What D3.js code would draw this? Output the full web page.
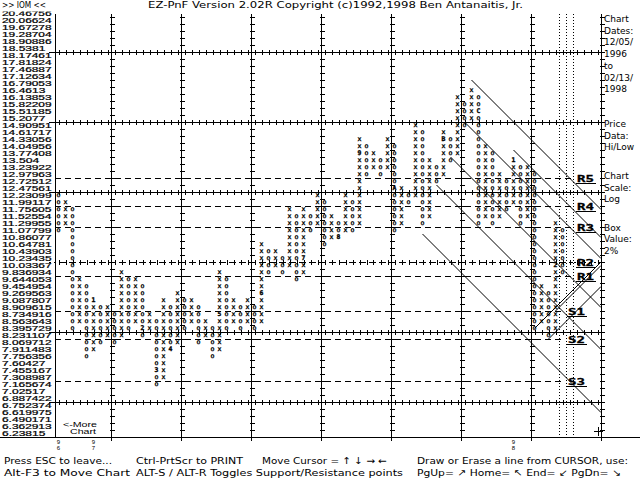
<!DOCTYPE html>
<html><head><meta charset="utf-8">
<script src="https://cdn.jsdelivr.net/npm/d3@7"></script>
<style>body{margin:0;background:#fff}svg{display:block}</style>
</head><body>
<svg id="c" width="640" height="480"></svg>
<script>
// ---------- DATA ----------
const priceLabels = ["6.23815","6.362913","6.490171","6.619975","6.752374","6.887422","7.02517","7.165674","7.308987","7.455167",
"7.60427","7.756356","7.911483","8.069712","8.231107","8.395729","8.563643","8.734916","8.909615","9.087807",
"9.269563","9.454954","9.644053","9.836934","10.03367","10.23435","10.43903","10.64781","10.86077","11.07799",
"11.29955","11.52554","11.75605","11.99117","12.23099","12.47561","12.72512","12.97963","13.23922","13.504",
"13.77408","14.04956","14.33056","14.61717","14.90951","15.2077","15.51185","15.82209","16.13853","16.4613",
"16.79053","17.12634","17.46887","17.81824","18.17461","18.5381","18.90886","19.28704","19.67278","20.06624","20.46756"];
// point & figure columns (box row indices, 0 = 6.23815, 2% boxes)
const colType = ["O","X","O","X","O","X","O","X","O","X","O","X","O","X","O","X","O","X","O","X",
"O","X","O","X","O","X","O","X","O","X","O","X","O","X","O","X","O","X","O","X",
"O","X","O","X","O","X","O","X","O","X","O","X","O","X","O","X","O","X","O","X",
"O","X","O","X","O","X","O","X","O","X","O","X","O"];
const colLow  = [29,30,15,16,11,12,13,14,13,14,15,16,14,15,7,8,12,13,15,16,
13,14,11,12,15,16,15,16,15,16,23,24,23,24,22,23,29,30,27,28,
28,29,29,30,37,38,37,38,29,30,33,34,30,31,36,37,39,40,44,45,
30,31,30,31,32,33,30,31,15,16,14,15,23];
const colHigh = [34,33,32,22,21,19,18,18,17,23,22,22,21,17,16,19,18,20,19,19,
18,16,15,23,22,19,18,19,18,27,26,26,25,32,31,32,31,34,33,31,
30,34,33,42,41,40,39,42,41,35,34,44,43,39,38,43,42,48,47,49,
48,41,40,37,36,39,38,38,37,21,20,30,29];
const markCol = [5,12,14,16,23,29,35,40,43,48,55,60,65,71];
const markRow = [19,15,9,12,17,20,25,28,40,35,42,46,39,24];
const markChr = ["1","2","3","4","5","6","7","8","9","A","B","C","1","2"];
// support / resistance levels (row index)
const srName = ["R5","R4","R3","R2","R1","S1","S2","S3"];
const srRow  = [36,32,29,24,22,17,13,7];
// trend lines [col1,row1,col2,row2]
const trendLines = [[59,50,77.5,31.5],[58,44,77.5,24.5],[65,40,77.5,27.5],[56,39,77.5,17.5],
[54,35,77.5,11.5],[52,28,77.5,2.5],[68,14.5,77.5,24],[70,13,77.5,20.5],[71,17,77.5,23.5]];
const yearCol = [0,5,65];
const yearTxt = ["96","97","98"];
const panelText = ["Chart","Dates:","12/05/","1996"," to","02/13/","1998","Price","Data:","Hi/Low","Chart","Scale:","Log","Box","Value:","2%"];
const panelY = [19,31,42,54,66,78,89,124,136,147,176,188,199,228,239,251];

// ---------- SCALES ----------
const x = d3.scaleLinear().domain([0,78]).range([58.5,58.5+7*78]);
const y = d3.scaleLinear().domain([0,60]).range([433,13]);
const svg = d3.select("#c");
const mono = "'DejaVu Sans Mono', monospace";
const sans = "'DejaVu Sans', sans-serif";
const lab = "'Liberation Sans', Arial, sans-serif";
const ink = "#000";

const gx = c => x(c-0.5);          // column boundary
const gy = k => y(k)-3;            // row line position

svg.append("defs").append("clipPath").attr("id","top").append("rect").attr("x",0).attr("y",11.5).attr("width",640).attr("height",470);

// ---------- GRID ----------
const g = svg.append("g").attr("stroke",ink).attr("shape-rendering","crispEdges");
const majorRows = d3.range(4,60,10);
const majorCols = d3.range(8,79,10);
majorRows.forEach(k=>{
  const ln = g.append("line").attr("x1",gx(0)-6).attr("x2",gx(78)).attr("y1",gy(k)+0.5).attr("y2",gy(k)+0.5);
  if(k===24) ln.attr("stroke-dasharray","2,3");
  d3.range(0,78).forEach(c=>{
    g.append("line").attr("x1",Math.round(x(c))+0.5).attr("x2",Math.round(x(c))+0.5).attr("y1",gy(k)-2).attr("y2",gy(k)+3);
  });
});
majorCols.forEach(c=>{
  const xx = gx(c)+0.5;
  g.append("line").attr("x1",xx).attr("x2",xx).attr("y1",14).attr("y2",441);
  d3.range(0,61).forEach(k=>{
    if(gy(k)>13) g.append("line").attr("x1",xx-2).attr("x2",xx+3).attr("y1",gy(k)+0.5).attr("y2",gy(k)+0.5);
  });
});
g.append("line").attr("x1",gx(0)+0.5).attr("x2",gx(0)+0.5).attr("y1",14).attr("y2",437);
g.append("line").attr("x1",0).attr("x2",640).attr("y1",437.5).attr("y2",437.5);
[72,73,74].forEach(c=>{
  g.append("line").attr("x1",gx(c)+0.5).attr("x2",gx(c)+0.5).attr("y1",14).attr("y2",437).attr("stroke-dasharray","1,2");
});

// ---------- SUPPORT / RESISTANCE ----------
srRow.forEach((k,i)=>{
  const isR = srName[i][0]==="R";
  const lx = isR ? 577 : 568;
  const ln = g.append("line").attr("x1",gx(0)).attr("x2",lx-4).attr("y1",gy(k)+0.5).attr("y2",gy(k)+0.5);
  if(k!==24) ln.attr("stroke-dasharray","6,4");
  else ln.attr("stroke-dasharray","4,6").attr("stroke-dashoffset",-6);
  svg.append("text").attr("x",lx).attr("y",gy(k)).attr("dominant-baseline","central")
    .attr("font-family",mono).attr("font-weight","bold").attr("font-size",9.5)
    .attr("stroke",ink).attr("stroke-width",0.3)
    .attr("textLength",17).attr("lengthAdjust","spacingAndGlyphs").text(srName[i]);
  g.append("line").attr("x1",lx-1).attr("x2",lx+19).attr("y1",gy(k)+5.5).attr("y2",gy(k)+5.5).attr("stroke-width",1.5);
});

// ---------- TREND LINES ----------
svg.append("g").selectAll("line").data(trendLines).join("line")
  .attr("x1",d=>x(d[0])).attr("y1",d=>gy(d[1])).attr("x2",d=>x(d[2])).attr("y2",d=>gy(d[3]))
  .attr("stroke",ink).attr("stroke-width",1);

// ---------- POINT & FIGURE BOXES ----------
const boxes = [];
colType.forEach((t,c)=>{
  for(let k=colLow[c];k<=colHigh[c];k++){
    let ch = t==="X"?"x":"o";
    const mi = markCol.findIndex((mc,j)=>mc===c && markRow[j]===k);
    if(mi>=0) ch = markChr[mi];
    boxes.push({c,k,ch});
  }
});
svg.append("g").selectAll("text").data(boxes).join("text")
  .attr("x",d=>x(d.c)).attr("y",d=>y(d.k)+0.3).attr("text-anchor","middle").attr("dominant-baseline","central")
  .attr("font-family",mono).attr("font-size",d=>/[xo]/.test(d.ch)?6.6:6.4)
  .attr("font-weight",d=>/[xo]/.test(d.ch)?"normal":"bold")
  .attr("stroke",ink).attr("stroke-width",0.35)
  .attr("fill",ink).text(d=>d.ch);

// ---------- Y LABELS ----------
svg.append("g").attr("clip-path","url(#top)").selectAll("text").data(priceLabels).join("text")
  .attr("x",2).attr("y",(d,i)=>y(i)).attr("dominant-baseline","central")
  .attr("font-family",lab).attr("font-size",6.7).attr("stroke",ink).attr("stroke-width",0.2)
  .attr("textLength",d=>d.length*6.2).attr("lengthAdjust","spacingAndGlyphs").text(d=>d);

// ---------- YEAR LABELS ----------
yearCol.forEach((c,i)=>{
  const t = svg.append("text").attr("font-family",lab).attr("font-size",6).attr("text-anchor","middle");
  t.append("tspan").attr("x",x(c)).attr("y",444).text(yearTxt[i][0]);
  t.append("tspan").attr("x",x(c)).attr("y",450).text(yearTxt[i][1]);
});

// ---------- TEXTS ----------
function txt(s,x0,y0,w,fs,fam){
  const t = svg.append("text").attr("x",x0).attr("y",y0).attr("dominant-baseline","central")
    .attr("font-family",fam||sans).attr("font-size",fs||9.5).attr("fill",ink).text(s);
  if(w) t.attr("textLength",w).attr("lengthAdjust","spacingAndGlyphs");
  return t;
}
txt(">> IOM <<",2,5,44,9);
txt("EZ-PnF Version 2.02R Copyright (c)1992,1998 Ben Antanaitis, Jr.",148,5,375,9);
panelText.forEach((s,i)=>txt(s,604,panelY[i],null,9));
txt("<-More",63,424,34,6.4,lab);
txt("Chart",70,431,26,6.4,lab);
txt("Press ESC to leave...",4,460,108);
txt("Ctrl-PrtScr to PRINT",136,460,107);
txt("Move Cursor = \u2191 \u2193 \u2192 \u2190",262,460,125);
txt("Draw or Erase a line from CURSOR, use:",417,460,211);
txt("Alt-F3 to Move Chart",4,472,126);
txt("ALT-S / ALT-R Toggles Support/Resistance points",136,472,267);
txt("PgUp= \u2197 Home= \u2196 End= \u2199 PgDn= \u2198",417,472,204);
g.append("line").attr("x1",594).attr("x2",603).attr("y1",431.5).attr("y2",431.5);
g.append("line").attr("x1",598.5).attr("x2",598.5).attr("y1",427).attr("y2",436);
</script>
</body></html>
